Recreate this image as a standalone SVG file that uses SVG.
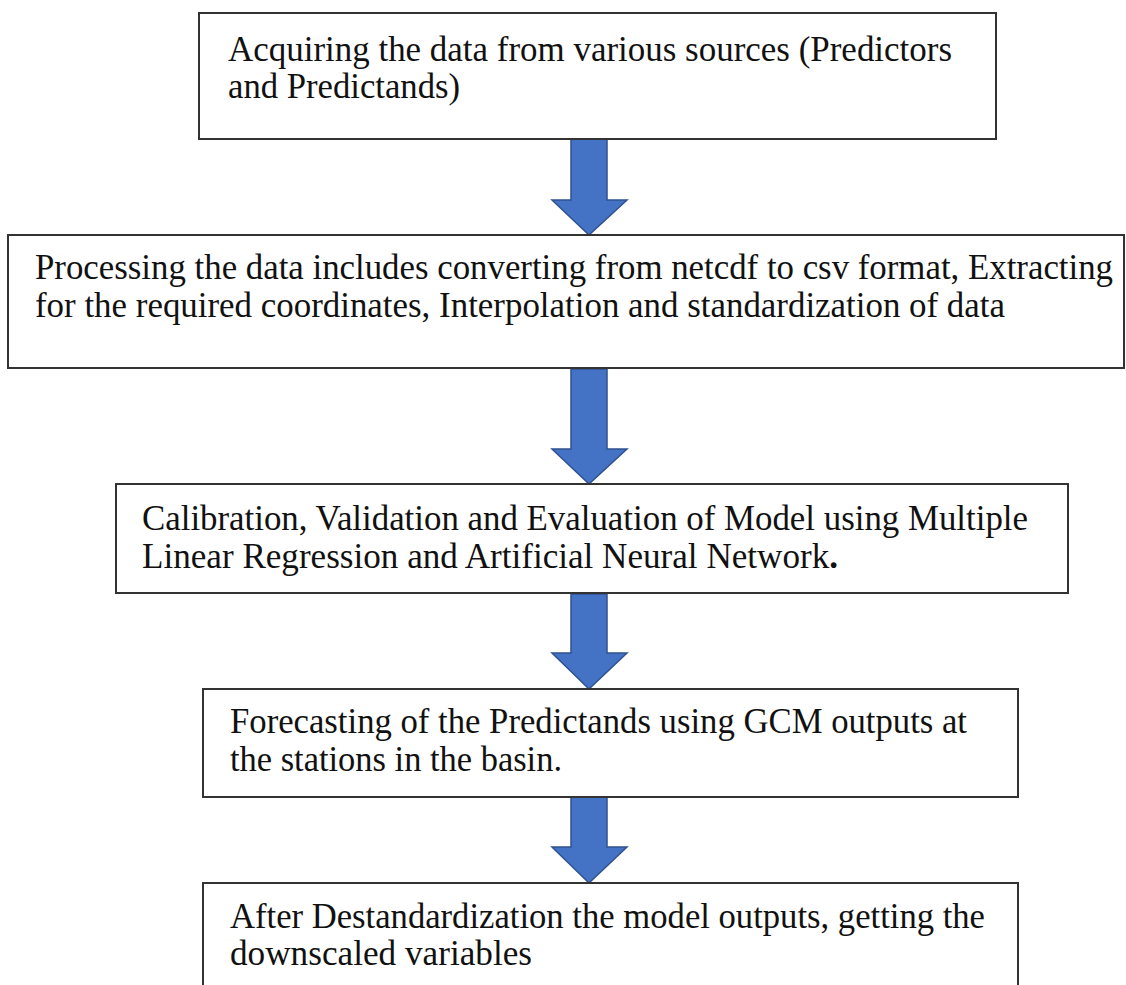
<svg xmlns="http://www.w3.org/2000/svg" width="1126" height="985" viewBox="0 0 1126 985">
<style>
.box{fill:#fff;stroke:#333;stroke-width:2}
.t{font-family:"Liberation Serif","Times New Roman",serif;font-size:35px;fill:#111}
.arr{fill:#4472C4;stroke:#2F528F;stroke-width:1.5;stroke-linejoin:miter}
</style>
<rect width="1126" height="985" fill="#fff"/>
<g id="connectors">
<polygon class="arr" points="571,137 607,137 607,200 627,200 589,235 552,200 571,200"/>
<polygon class="arr" points="571,369 607,369 607,449 627,449 589,484 552,449 571,449"/>
<polygon class="arr" points="571,594 607,594 607,653 627,653 589,689 552,653 571,653"/>
<polygon class="arr" points="571,797 607,797 607,847 627,847 589,883 552,847 571,847"/>
</g>
<g id="node1">
<rect class="box" x="199" y="13" width="797" height="126"/>
<text class="t" x="228" y="61" textLength="724" lengthAdjust="spacingAndGlyphs">Acquiring the data from various sources (Predictors</text>
<text class="t" x="228" y="98" textLength="232" lengthAdjust="spacingAndGlyphs">and Predictands)</text>
</g>
<g id="node2">
<rect class="box" x="8" y="235" width="1116" height="133"/>
<text class="t" x="35" y="279" textLength="1078" lengthAdjust="spacingAndGlyphs">Processing the data includes converting from netcdf to csv format, Extracting</text>
<text class="t" x="35" y="317" textLength="970" lengthAdjust="spacingAndGlyphs">for the required coordinates, Interpolation and standardization of data</text>
</g>
<g id="node3">
<rect class="box" x="116" y="484" width="952" height="109"/>
<text class="t" x="142" y="530" textLength="886" lengthAdjust="spacingAndGlyphs">Calibration, Validation and Evaluation of Model using Multiple</text>
<text class="t" x="142" y="568" textLength="696" lengthAdjust="spacingAndGlyphs">Linear Regression and Artificial Neural Network<tspan font-weight="bold">.</tspan></text>
</g>
<g id="node4">
<rect class="box" x="203" y="689" width="815" height="108"/>
<text class="t" x="230" y="733" textLength="737" lengthAdjust="spacingAndGlyphs">Forecasting of the Predictands using GCM  outputs at</text>
<text class="t" x="230" y="771" textLength="332" lengthAdjust="spacingAndGlyphs">the stations in the basin.</text>
</g>
<g id="node5">
<rect class="box" x="203" y="883" width="815" height="110"/>
<text class="t" x="230" y="928" textLength="755" lengthAdjust="spacingAndGlyphs">After Destandardization the model outputs, getting the</text>
<text class="t" x="230" y="965" textLength="302" lengthAdjust="spacingAndGlyphs">downscaled variables</text>
</g>
</svg>
